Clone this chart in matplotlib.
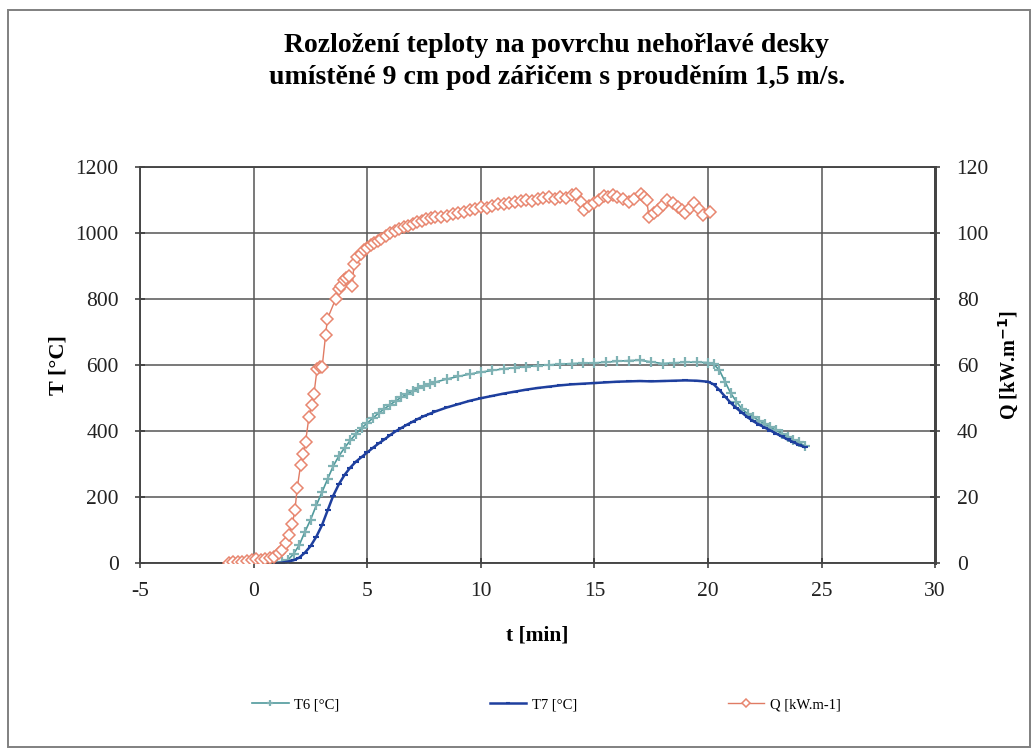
import matplotlib
matplotlib.use("Agg")
import matplotlib.pyplot as plt
from matplotlib.patches import Rectangle

plt.rcParams['font.family'] = ['Liberation Serif', 'DejaVu Serif']
plt.rcParams['axes.unicode_minus'] = False

# T6 [°C]
t6_time = [1.0, 1.25, 1.5, 1.75, 2.0, 2.25, 2.5, 2.75, 3.0, 3.25, 3.5, 3.75, 4.0, 4.25,
           4.5, 4.75, 5.0, 5.25, 5.5, 5.75, 6.0, 6.25, 6.5, 6.75, 7.0, 7.25, 7.5, 7.75,
           8.0, 8.5, 9.0, 9.5, 10.0, 10.5, 11.0, 11.5, 12.0, 12.5, 13.0, 13.5, 14.0,
           14.5, 15.0, 15.5, 16.0, 16.5, 17.0, 17.5, 18.0, 18.5, 19.0, 19.5, 20.0,
           20.25, 20.5, 20.75, 21.0, 21.25, 21.5, 21.75, 22.0, 22.25, 22.5, 22.75,
           23.0, 23.25, 23.5, 23.75, 24.0, 24.25]
t6_vals = [0, 3, 10, 28, 55, 95, 132, 175, 215, 255, 295, 325, 350, 372,
           392, 410, 425, 440, 455, 468, 480, 492, 503, 513, 522, 530, 537, 543,
           549, 558, 566, 573, 579, 584, 589, 593, 596, 599, 601, 603, 605,
           606, 607, 609, 612, 614, 615, 610, 605, 607, 609, 609, 608,
           603, 585, 550, 515, 490, 467, 453, 443, 432, 422, 412,
           403, 393, 383, 374, 366, 356]

# T7 [°C]
t7_time = t6_time
t7_vals = [0, 2, 5, 9, 17, 32, 52, 80, 115, 160, 205, 240, 268, 290,
           308, 322, 336, 350, 363, 375, 388, 400, 410, 420, 429, 438, 446, 453,
           460, 472, 482, 492, 500, 507, 514, 520, 526, 531, 535, 539, 542,
           544, 546, 548, 550, 551, 552, 551, 552, 553, 554, 553, 550,
           542, 525, 505, 486, 470, 456, 442, 430, 420, 411, 402,
           393, 384, 375, 367, 359, 352]

# Q [kW.m-1]
q_time = [-1.1, -0.9, -0.7, -0.5, -0.3, -0.1, 0.1, 0.3, 0.5, 0.7, 0.9, 1.1, 1.25, 1.4,
          1.55, 1.7, 1.81, 1.91, 2.06, 2.17, 2.28, 2.43, 2.55, 2.65, 2.79, 2.9, 3.01,
          3.16, 3.24, 3.6, 3.75, 3.85, 3.97, 4.08, 4.19, 4.34, 4.41, 4.56, 4.7, 4.85,
          5.0, 5.15, 5.3, 5.45, 5.6, 5.8, 6.0, 6.2, 6.4, 6.6, 6.8, 7.0, 7.2, 7.4, 7.6,
          7.8, 8.0, 8.25, 8.5, 8.75, 9.0, 9.25, 9.5, 9.75, 10.0, 10.25, 10.5, 10.75,
          11.0, 11.25, 11.5, 11.75, 12.0, 12.25, 12.5, 12.75, 13.0, 13.25, 13.5, 13.75,
          14.0, 14.2, 14.4, 14.56, 14.75, 15.0, 15.2, 15.4, 15.6, 15.8, 16.0, 16.25,
          16.5, 16.75, 17.06, 17.2, 17.3, 17.4, 17.6, 17.8, 18.0, 18.2, 18.45, 18.7,
          18.85, 19.0, 19.2, 19.4, 19.6, 19.8, 20.07]
q_vals = [0, 0.3, 0.5, 0.4, 0.8, 1.0, 1.2, 1.0, 1.3, 1.5, 2.0, 3.0, 4.0, 6.0,
          8.5, 12, 16, 22.7, 29.7, 33, 36.8, 44.4, 48, 51.4, 59, 59.5, 59.5,
          69, 74, 80, 83, 84, 85.7, 86.5, 87, 84, 90.7, 92.7, 93.8, 94.8,
          95.6, 96.3, 97, 97.7, 98.3, 99.2, 100, 100.8, 101.3, 101.9, 102.3, 102.9, 103.3, 103.8, 104.2,
          104.5, 104.8, 105.0, 105.3, 105.8, 106.2, 106.5, 106.9, 107.3, 107.9, 107.6, 108.2, 108.7,
          108.9, 109.2, 109.5, 109.8, 110.0, 109.7, 110.3, 110.6, 110.9, 110.5, 111.0, 110.8,
          111.6, 112.0, 109.5, 107.0, 108.2, 109.0, 110.2, 111.4, 111.0, 111.5, 111.0, 110.3,
          109.4, 110.5, 112.0, 111.0, 110.0, 105.0, 106.2, 107.0, 108.6, 110.0, 109.2, 108.0,
          107.0, 106.0, 107.5, 109.0, 107.2, 105.5, 106.5]

title = "Rozložení teploty na povrchu nehořlavé desky\numístěné 9 cm pod zářičem s prouděním 1,5 m/s."

fig = plt.figure(figsize=(10.35, 7.53), dpi=100)
ax = fig.add_axes([0.1355, 0.252, 0.768, 0.526])
ax2 = ax.twinx()

# outer frame of the chart
fig.patches.append(Rectangle((0.0077, 0.008), 0.987, 0.979, transform=fig.transFigure,
                             fill=False, edgecolor='#808080', linewidth=1.4))

ax.plot(t6_time, t6_vals, color='#4f9a9c', linewidth=1.2, marker='+', markersize=7,
        markeredgewidth=1.6, markeredgecolor='#7fb2b4', label='T6 [°C]', zorder=3)
ax.plot(t7_time, t7_vals, color='#1e3f9e', linewidth=1.8, marker='_', markersize=4,
        markeredgewidth=1.5, label='T7 [°C]', zorder=4)
ax2.plot(q_time, q_vals, color='#e07b64', linewidth=1.0, marker='D', markersize=6.5,
         markerfacecolor='white', markeredgecolor='#e8866f', markeredgewidth=1.1,
         label='Q [kW.m-1]', zorder=5)

ax.set_xlim(-5, 30)
ax.set_ylim(0, 1200)
ax2.set_ylim(0, 120)
ax.set_xticks(range(-5, 31, 5))
ax.set_yticks(range(0, 1201, 200))
ax2.set_yticks(range(0, 121, 20))

ax.grid(True, color='#555555', linewidth=1.1)
ax.set_axisbelow(True)
for a in (ax, ax2):
    for s in a.spines.values():
        s.set_color('#444444')
        s.set_linewidth(1.1)
    a.tick_params(direction='inout', length=7, width=1.1, color='#333333',
                  labelsize=15.5, labelcolor='#222222', pad=12)
ax.tick_params(axis='x', pad=10)
ax.spines['right'].set_linewidth(2)
ax2.spines['right'].set_linewidth(2)

ax.set_xlabel('t [min]', fontsize=15.5, fontweight='bold', labelpad=18)
ax.set_ylabel('T [°C]', fontsize=16, fontweight='bold', labelpad=5)
ax2.set_ylabel('Q [kW.m$^{\\mathbf{-1}}$]', fontsize=14.5, fontweight='bold', labelpad=6)

fig.text(0.538, 0.918, title, ha='center', va='center', fontsize=20,
         fontweight='bold', linespacing=1.35)

h1, l1 = ax.get_legend_handles_labels()
h2, l2 = ax2.get_legend_handles_labels()
fig.legend(h1 + h2, l1 + l2, loc='center', bbox_to_anchor=(0.528, 0.064), ncol=3,
           frameon=False, fontsize=10.5, columnspacing=10.3, handlelength=2.5,
           handletextpad=0.4, markerscale=0.7)

fig.savefig('out.png', dpi=100)
